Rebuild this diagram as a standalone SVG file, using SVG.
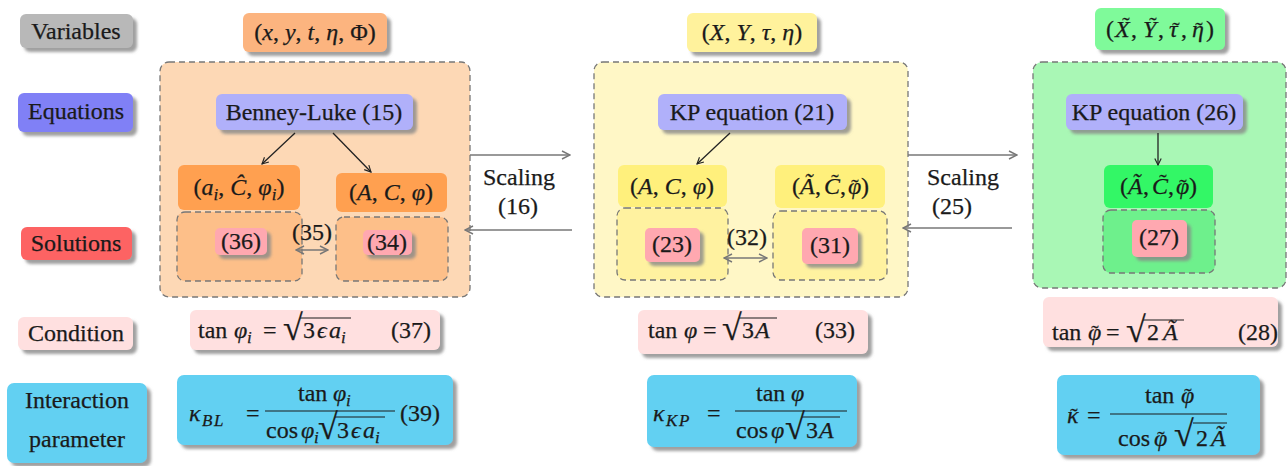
<svg xmlns="http://www.w3.org/2000/svg" width="1287" height="466" viewBox="0 0 1287 466">
<style>
text{font-family:"Liberation Serif","DejaVu Serif",serif;font-size:24px;fill:#1a1a1a;stroke:#1a1a1a;stroke-width:0.25}
.m{text-anchor:middle}
.i{font-style:italic}
.s{font-size:17px}
.rad{font-size:36px;font-style:normal}
.tl{font-size:22px;font-style:normal}
.dash{stroke:#777;stroke-width:1.3;stroke-dasharray:6 4}
.conn{stroke:#222;stroke-width:1.3;fill:none}
.gconn{stroke:#777;stroke-width:1.5;fill:none}
.bar{stroke:#1a1a1a;stroke-width:1.2}
</style>
<defs>
<filter id="sh" x="-10%" y="-10%" width="130%" height="140%">
<feDropShadow dx="4" dy="4" stdDeviation="1.5" flood-color="#888" flood-opacity="0.8"/>
</filter>
<marker id="ah" viewBox="0 0 10 10" refX="9" refY="5" markerWidth="8" markerHeight="8" orient="auto-start-reverse" markerUnits="userSpaceOnUse">
<path d="M1,1 L9,5 L1,9" fill="none" stroke="#222" stroke-width="1.4"/>
</marker>
<marker id="gh" viewBox="0 0 10 10" refX="9" refY="5" markerWidth="10" markerHeight="10" orient="auto-start-reverse" markerUnits="userSpaceOnUse">
<path d="M1,1 L9,5 L1,9" fill="none" stroke="#777" stroke-width="1.4"/>
</marker>
</defs>

<!-- row labels -->
<g id="lbl-variables"><rect x="20" y="14" width="113" height="34" rx="6" fill="#b8b8b8" filter="url(#sh)"/><text class="m" x="76" y="39">Variables</text></g>
<g id="lbl-equations"><rect x="18" y="93" width="115" height="39" rx="6" fill="#8080f6" filter="url(#sh)"/><text class="m" x="76" y="119">Equations</text></g>
<g id="lbl-solutions"><rect x="21" y="227" width="111" height="33" rx="6" fill="#fd6464" filter="url(#sh)"/><text class="m" x="76" y="251">Solutions</text></g>
<g id="lbl-condition"><rect x="18" y="317" width="115" height="33" rx="6" fill="#ffe0e0" filter="url(#sh)"/><text class="m" x="76" y="341">Condition</text></g>
<g id="lbl-interaction"><rect x="7" y="383" width="140" height="80" rx="7" fill="#62d0f2" filter="url(#sh)"/><text class="m" x="77" y="408">Interaction</text><text class="m" x="77" y="447">parameter</text></g>

<!-- Benney-Luke column -->
<g id="bl-vars"><rect x="243" y="13" width="144" height="39" rx="6" fill="#fcb47f" filter="url(#sh)"/><text class="m" x="315" y="40">(<tspan class="i">x</tspan>, <tspan class="i">y</tspan>, <tspan class="i">t</tspan>, <tspan class="i">η</tspan>, Φ)</text></g>
<g id="bl-frame"><rect x="160" y="62" width="310" height="235" rx="9" fill="#fdd8b5" class="dash"/></g>
<g id="bl-eq"><rect x="216" y="94" width="197" height="36" rx="6" fill="#b0b0fa" filter="url(#sh)"/><text class="m" x="314" y="120">Benney-Luke (15)</text></g>
<g id="bl-sol1"><rect x="177" y="212" width="125" height="69" rx="8" fill="#fdbf89" class="dash"/><rect x="178" y="165" width="122" height="45" rx="6" fill="#ffa050"/><text class="m" x="239" y="195">(<tspan class="i">a</tspan><tspan class="s i" dy="5">i</tspan><tspan dy="-5">, </tspan><tspan class="i">Ĉ</tspan>, <tspan class="i">φ</tspan><tspan class="s i" dy="5">i</tspan><tspan dy="-5">)</tspan></text><rect x="215" y="228" width="52" height="27" rx="5" fill="#ffa8b0" filter="url(#sh)"/><text class="m" x="241" y="249">(36)</text></g>
<g id="bl-sol2"><rect x="336" y="217" width="112" height="64" rx="8" fill="#fdbf89" class="dash"/><rect x="336" y="173" width="111" height="39" rx="6" fill="#ffa050"/><text class="m" x="391" y="200">(<tspan class="i">A</tspan>, <tspan class="i">C</tspan>, <tspan class="i">φ</tspan>)</text><rect x="363" y="230" width="49" height="25" rx="5" fill="#ffa8b0" filter="url(#sh)"/><text class="m" x="387" y="250">(34)</text></g>
<g id="bl-lbl35"><text class="m" x="312" y="240">(35)</text></g>

<!-- KP column -->
<g id="kp-vars"><rect x="687" y="13" width="130" height="39" rx="6" fill="#fff29c" filter="url(#sh)"/><text class="m" x="752" y="40">(<tspan class="i">X</tspan>, <tspan class="i">Y</tspan>, <tspan class="i">τ</tspan>, <tspan class="i">η</tspan>)</text></g>
<g id="kp-frame"><rect x="594" y="62" width="314" height="235" rx="9" fill="#fff7c6" class="dash"/></g>
<g id="kp-eq"><rect x="658" y="94" width="189" height="36" rx="6" fill="#b0b0fa" filter="url(#sh)"/><text class="m" x="752" y="120">KP equation (21)</text></g>
<g id="kp-sol1"><rect x="617" y="208" width="111" height="72" rx="8" fill="#fff2a0" class="dash"/><rect x="618" y="165" width="109" height="42" rx="6" fill="#fff07c"/><text class="m" x="672" y="194">(<tspan class="i">A</tspan>, <tspan class="i">C</tspan>, <tspan class="i">φ</tspan>)</text><rect x="645" y="228" width="55" height="34" rx="5" fill="#ffa8b0" filter="url(#sh)"/><text class="m" x="672" y="252">(23)</text></g>
<g id="kp-sol2"><rect x="773" y="211" width="114" height="69" rx="8" fill="#fff2a0" class="dash"/><rect x="775" y="165" width="110" height="43" rx="6" fill="#fff07c"/>
<text y="194"><tspan x="792">(</tspan><tspan x="800" class="i">Ã</tspan><tspan x="815">,</tspan><tspan x="824" class="i">C</tspan><tspan x="840">,</tspan><tspan x="848" class="i">φ</tspan><tspan x="861">)</tspan><tspan x="831.3" y="189" class="tl">˜</tspan><tspan x="851.3" y="194" class="tl">˜</tspan></text>
<rect x="802" y="228" width="56" height="36" rx="5" fill="#ffa8b0" filter="url(#sh)"/><text class="m" x="830" y="253">(31)</text></g>
<g id="kp-lbl32"><text class="m" x="747" y="245">(32)</text></g>

<!-- tilde KP column -->
<g id="tk-vars"><rect x="1095" y="8" width="130" height="42" rx="6" fill="#7ffa9a" filter="url(#sh)"/>
<text y="37"><tspan x="1106">(</tspan><tspan x="1115" class="i">X</tspan><tspan x="1131">,</tspan><tspan x="1143" class="i">Y</tspan><tspan x="1158">,</tspan><tspan x="1169" class="i">τ</tspan><tspan x="1181">,</tspan><tspan x="1192" class="i">η</tspan><tspan x="1206">)</tspan><tspan x="1122.3" y="32" class="tl">˜</tspan><tspan x="1149.3" y="32" class="tl">˜</tspan><tspan x="1172.3" y="37" class="tl">˜</tspan><tspan x="1195.3" y="37" class="tl">˜</tspan></text></g>
<g id="tk-frame"><rect x="1033" y="62" width="253" height="226" rx="9" fill="#a9f7b5" class="dash"/></g>
<g id="tk-eq"><rect x="1066" y="94" width="177" height="36" rx="6" fill="#b0b0fa" filter="url(#sh)"/><text class="m" x="1154" y="120">KP equation (26)</text></g>
<g id="tk-sol"><rect x="1103" y="210" width="112" height="63" rx="8" fill="#6ef08c" class="dash"/><rect x="1104" y="165" width="109" height="43" rx="6" fill="#33f766"/>
<text y="194"><tspan x="1120">(</tspan><tspan x="1128" class="i">Ã</tspan><tspan x="1143">,</tspan><tspan x="1152" class="i">C</tspan><tspan x="1168">,</tspan><tspan x="1176" class="i">φ</tspan><tspan x="1189">)</tspan><tspan x="1159.3" y="189" class="tl">˜</tspan><tspan x="1179.3" y="194" class="tl">˜</tspan></text>
<rect x="1132" y="220" width="55" height="37" rx="5" fill="#ffa8b0" filter="url(#sh)"/><text class="m" x="1159" y="245">(27)</text></g>

<!-- scaling labels -->
<g id="scale16"><text class="m" x="519" y="185">Scaling</text><text class="m" x="518" y="214">(16)</text></g>
<g id="scale25"><text class="m" x="963" y="185">Scaling</text><text class="m" x="952" y="214">(25)</text></g>

<!-- conditions -->
<g id="cond-bl"><rect x="190" y="310" width="250" height="40" rx="6" fill="#ffe0e0" filter="url(#sh)"/>
<line class="bar" x1="300" y1="318" x2="351" y2="318"/>
<text y="338"><tspan x="198">tan</tspan><tspan x="234" class="i">φ</tspan><tspan x="247" y="343" class="s i">i</tspan><tspan x="263" y="338">=</tspan><tspan x="283" y="340" class="rad">√</tspan><tspan x="303" y="338">3</tspan><tspan x="317" class="i">ϵ</tspan><tspan x="329" class="i">a</tspan><tspan x="341" y="343" class="s i">i</tspan><tspan x="391" y="338">(37)</tspan></text></g>
<g id="cond-kp"><rect x="638" y="310" width="230" height="44" rx="6" fill="#ffe0e0" filter="url(#sh)"/>
<line class="bar" x1="739" y1="318" x2="777" y2="318"/>
<text y="338"><tspan x="648">tan</tspan><tspan x="684" class="i">φ</tspan><tspan x="703">=</tspan><tspan x="722" y="340" class="rad">√</tspan><tspan x="742" y="338">3</tspan><tspan x="755" class="i">A</tspan><tspan x="815">(33)</tspan></text></g>
<g id="cond-tk"><rect x="1043" y="297" width="235" height="50" rx="6" fill="#ffe0e0" filter="url(#sh)"/>
<line class="bar" x1="1143" y1="320" x2="1184" y2="320"/>
<text y="340"><tspan x="1052">tan</tspan><tspan x="1088" class="i">φ</tspan><tspan x="1106">=</tspan><tspan x="1126" y="342" class="rad">√</tspan><tspan x="1147" y="340">2</tspan><tspan x="1163" class="i">Ã</tspan><tspan x="1238">(28)</tspan><tspan x="1091.3" class="tl">˜</tspan></text></g>

<!-- interaction parameters -->
<g id="int-bl"><rect x="177" y="375" width="276" height="70" rx="7" fill="#62d0f2" filter="url(#sh)"/>
<line class="bar" x1="265" y1="411" x2="395" y2="411"/>
<line class="bar" x1="335" y1="417" x2="385" y2="417"/>
<text y="421"><tspan x="189" class="i">κ</tspan><tspan x="202" y="426" class="s i">B</tspan><tspan x="214" class="s i">L</tspan><tspan x="246" y="421">=</tspan><tspan x="400">(39)</tspan></text>
<text y="401"><tspan x="298">tan</tspan><tspan x="333" class="i">φ</tspan><tspan x="346" y="406" class="s i">i</tspan></text>
<text y="438"><tspan x="266">cos</tspan><tspan x="301" class="i">φ</tspan><tspan x="314" y="443" class="s i">i</tspan><tspan x="318" y="439" class="rad">√</tspan><tspan x="337" y="438">3</tspan><tspan x="351" class="i">ϵ</tspan><tspan x="363" class="i">a</tspan><tspan x="375" y="443" class="s i">i</tspan></text></g>
<g id="int-kp"><rect x="647" y="375" width="210" height="72" rx="7" fill="#62d0f2" filter="url(#sh)"/>
<line class="bar" x1="735" y1="411" x2="847" y2="411"/>
<line class="bar" x1="802" y1="417" x2="840" y2="417"/>
<text y="421"><tspan x="653" class="i">κ</tspan><tspan x="666" y="426" class="s i">K</tspan><tspan x="679" class="s i">P</tspan><tspan x="707" y="421">=</tspan></text>
<text y="401"><tspan x="756">tan</tspan><tspan x="791" class="i">φ</tspan></text>
<text y="438"><tspan x="736">cos</tspan><tspan x="771" class="i">φ</tspan><tspan x="785" y="439" class="rad">√</tspan><tspan x="806" y="438">3</tspan><tspan x="819" class="i">A</tspan></text></g>
<g id="int-tk"><rect x="1057" y="375" width="203" height="80" rx="7" fill="#62d0f2" filter="url(#sh)"/>
<line class="bar" x1="1110" y1="414" x2="1227" y2="414"/>
<line class="bar" x1="1193" y1="423" x2="1227" y2="423"/>
<text y="423"><tspan x="1067" class="i">κ</tspan><tspan x="1087">=</tspan><tspan x="1070.3" class="tl">˜</tspan></text>
<text y="403"><tspan x="1145">tan</tspan><tspan x="1181" class="i">φ</tspan><tspan x="1184.3" class="tl">˜</tspan></text>
<text y="446"><tspan x="1118">cos</tspan><tspan x="1154" class="i">φ</tspan><tspan x="1174" class="rad">√</tspan><tspan x="1196">2</tspan><tspan x="1211" class="i">Ã</tspan><tspan x="1157.3" class="tl">˜</tspan></text></g>

<!-- connectors -->
<g id="connectors">
<line class="conn" x1="295" y1="133" x2="262" y2="164" marker-end="url(#ah)"/>
<line class="conn" x1="333" y1="133" x2="371" y2="172" marker-end="url(#ah)"/>
<line class="conn" x1="730" y1="133" x2="697" y2="164" marker-end="url(#ah)"/>
<line class="conn" x1="1158" y1="133" x2="1158" y2="165" marker-end="url(#ah)"/>
<line class="gconn" x1="296" y1="250" x2="328" y2="250" marker-start="url(#gh)" marker-end="url(#gh)"/>
<line class="gconn" x1="724" y1="258" x2="767" y2="258" marker-start="url(#gh)" marker-end="url(#gh)"/>
<line class="gconn" x1="470" y1="155" x2="570" y2="155" marker-end="url(#gh)"/>
<line class="gconn" x1="572" y1="230" x2="465" y2="230" marker-end="url(#gh)"/>
<line class="gconn" x1="908" y1="155" x2="1017" y2="155" marker-end="url(#gh)"/>
<line class="gconn" x1="1012" y1="228" x2="903" y2="228" marker-end="url(#gh)"/>
</g>
</svg>
